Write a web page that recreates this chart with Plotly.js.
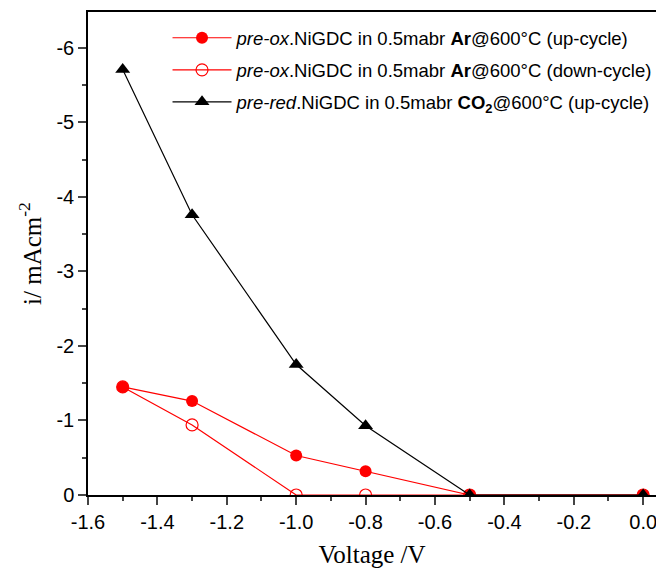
<!DOCTYPE html>
<html><head><meta charset="utf-8">
<script src="https://cdn.plot.ly/plotly-3.0.1.min.js"></script>
<style>html,body{margin:0;padding:0;background:#fff}</style>
</head><body>
<div id="chart" style="width:656px;height:568px"></div>
<script>
const voltage = [-1.5, -1.3, -1.0, -0.8, -0.5, 0.0];
const arUp = [-1.45, -1.26, -0.53, -0.32, 0, 0];
const arDown = [-1.45, -0.94, 0, 0, 0, 0];
const co2Up = [-5.71, -3.76, -1.75, -0.93, 0, 0];
const names = [
  '<i>pre-ox</i>.NiGDC in 0.5mabr <b>Ar</b>@600°C (up-cycle)',
  '<i>pre-ox</i>.NiGDC in 0.5mabr <b>Ar</b>@600°C (down-cycle)',
  '<i>pre-red</i>.NiGDC in 0.5mabr <b>CO<sub>2</sub></b>@600°C (up-cycle)'
];
const xTickVals = [-1.6,-1.4,-1.2,-1.0,-0.8,-0.6,-0.4,-0.2,0.0];
const xTickText = ['-1.6','-1.4','-1.2','-1.0','-0.8','-0.6','-0.4','-0.2','0.0'];
const yTickVals = [0,-1,-2,-3,-4,-5,-6];
const yTickText = ['0','-1','-2','-3','-4','-5','-6'];
const traces = [
  {x: voltage, y: arUp, name: names[0], legendgroup: 'a', mode: 'lines+markers',
   line: {color: '#ff0000', width: 1.2},
   marker: {symbol: 'circle', size: 12, color: '#ff0000'}},
  {x: voltage, y: arDown, name: names[1], legendgroup: 'b', mode: 'lines+markers',
   line: {color: '#ff0000', width: 1.2},
   marker: {symbol: 'circle-open', size: 12, color: '#ff0000', line: {width: 1.2}}},
  {x: voltage, y: co2Up, name: names[2], legendgroup: 'c', mode: 'lines+markers',
   line: {color: '#000000', width: 1.2},
   marker: {symbol: 'triangle-up', size: 13, color: '#000000'}}
];
const layout = {
  width: 656, height: 568,
  margin: {l: 88, r: 0, t: 12, b: 73, autoexpand: false},
  paper_bgcolor: '#fff', plot_bgcolor: '#fff',
  font: {family: 'Liberation Sans, Arial, sans-serif', color: '#000'},
  showlegend: true,
  legend: {x: 0.14, y: 0.985, xanchor: 'left', yanchor: 'top',
    bgcolor: 'rgba(0,0,0,0)', font: {size: 18.5, family: 'Liberation Sans, Arial, sans-serif'},
    itemwidth: 59, tracegroupgap: 5},
  xaxis: {range: [-1.6, 0.037], tickvals: xTickVals, ticktext: xTickText,
    ticklabeloverflow: 'allow',
    ticks: 'outside', ticklen: 8, tickwidth: 1.5, showline: true, linewidth: 1.5,
    linecolor: '#000', mirror: true, showgrid: false, zeroline: false,
    tickfont: {size: 20},
    minor: {tickvals: [-1.5,-1.3,-1.1,-0.9,-0.7,-0.5,-0.3,-0.1], ticks: 'outside', ticklen: 4, tickwidth: 1.5, showgrid: false},
    title: {text: 'Voltage /V', font: {family: 'Liberation Serif, Times New Roman, serif', size: 25}, standoff: 14}},
  yaxis: {range: [0, -6.48], tickvals: yTickVals, ticktext: yTickText,
    ticks: 'outside', ticklen: 8, tickwidth: 1.5, showline: true, linewidth: 1.5,
    linecolor: '#000', mirror: true, showgrid: false, zeroline: false,
    tickfont: {size: 20},
    minor: {tickvals: [-0.5,-1.5,-2.5,-3.5,-4.5,-5.5], ticks: 'outside', ticklen: 4, tickwidth: 1.5, showgrid: false},
    title: {text: 'i/ mAcm<sup>-2</sup>', font: {family: 'Liberation Serif, Times New Roman, serif', size: 25}, standoff: 8}}
};
Plotly.newPlot('chart', traces, layout, {displayModeBar: false});
</script>
</body></html>
